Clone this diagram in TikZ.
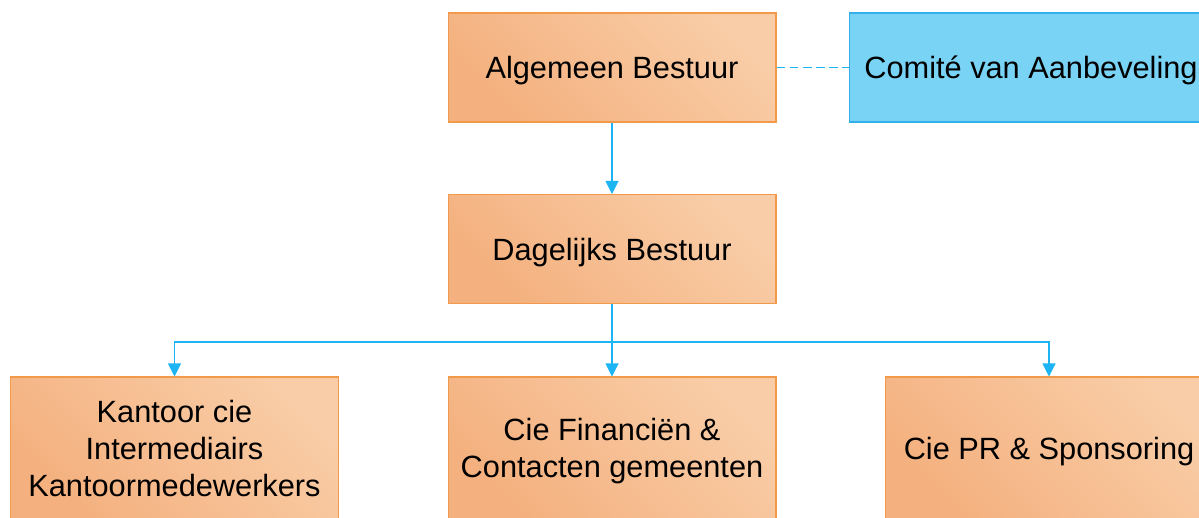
\documentclass[tikz,border=0pt]{standalone}
\usepackage{fontspec}
\setmainfont{Liberation Sans}
\usetikzlibrary{arrows.meta}
\definecolor{orangelight}{HTML}{F9CDA7}
\definecolor{orangedark}{HTML}{F4B07E}
\definecolor{orangeline}{HTML}{F3994A}
\definecolor{bluefill}{HTML}{78D3F5}
\definecolor{blueline}{HTML}{33B0EC}
\definecolor{arrowblue}{HTML}{1CB4F2}
\begin{document}
\begin{tikzpicture}[x=0.02cm, y=-0.02cm,
		orangebox/.style={draw=orangeline, line width=0.6pt, top color=orangelight, bottom color=orangedark, shading angle=-45, minimum width=6.56cm, minimum height=2.18cm, align=center, font=\fontsize{17.5}{21}\selectfont, inner sep=0pt, text depth=0pt},
		bluebox/.style={draw=blueline, line width=0.6pt, fill=bluefill, minimum width=7.28cm, minimum height=2.18cm, align=center, font=\fontsize{17.5}{21}\selectfont, inner sep=0pt, text depth=0pt},
		link/.style={draw=arrowblue, line width=0.6pt, -{Triangle[width=7.4pt, length=7.4pt]}}]
		\useasboundingbox (0, 0) rectangle (1199, 517);
		\clip (0, 0) rectangle (1199, 517);

		\node[orangebox] (algemeen) at (612, 67.5) {Algemeen Bestuur};
		\node[bluebox] (comite) at (1031, 67.5) {Comité van Aanbeveling};
		\node[orangebox] (dagelijks) at (612, 249) {Dagelijks Bestuur};
		\node[orangebox, minimum height=2.84cm] (kantoor) at (174.5, 448) {Kantoor cie\\Intermediairs\\Kantoormedewerkers};
		\node[orangebox, minimum height=2.84cm] (financien) at (612, 448) {Cie Financiën \&\\Contacten gemeenten};
		\node[orangebox, minimum height=2.84cm] (pr) at (1049, 448) {Cie PR \& Sponsoring};

		\draw[draw=arrowblue, line width=0.6pt, dash pattern=on 5pt off 2.5pt] (algemeen) -- (comite);
		\draw[link] (algemeen) -- (dagelijks);
		\draw[link] (dagelijks) -- (financien);
		\draw[link] (dagelijks.south) -- ++(0, 38) -| (kantoor.north);
		\draw[link] (dagelijks.south) -- ++(0, 38) -| (pr.north);
	\end{tikzpicture}
\end{document}
